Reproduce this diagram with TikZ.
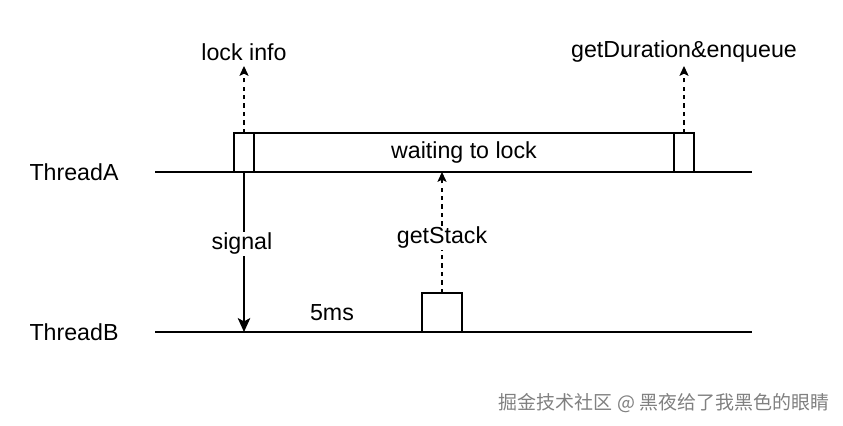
\documentclass[tikz,border=0pt]{standalone}
\usepackage{fontspec}
\setmainfont{Liberation Sans}
\newfontfamily\cjk{Noto Sans CJK SC}
\usetikzlibrary{arrows.meta}
\begin{document}
\begin{tikzpicture}[x=0.025cm,y=-0.025cm,
  lbl/.style={font=\fontsize{16.5}{18}\selectfont,inner sep=1pt},
  blk/.style={draw=black,thick,inner sep=0pt},
  evt/.style={thick,dashed,-{Stealth[length=7pt,width=6.5pt,inset=1.5pt]}},
  sig/.style={thick,-{Stealth[length=10pt,width=9pt,inset=2.5pt]}}]
\useasboundingbox (0,0) rectangle (843,426);

\node[lbl] (tA) at (74,172) {ThreadA};
\node[lbl] (tB) at (74,332) {ThreadB};
\coordinate (aL) at (155,172);
\coordinate (aR) at (752,172);
\coordinate (bL) at (155,332);
\coordinate (bR) at (752,332);
\draw[thick] (aL) -- (aR);
\draw[thick] (bL) -- (bR);

\draw[blk] (234,133) rectangle (254,172);
\draw[blk] (254,133) rectangle (674,172);
\draw[blk] (674,133) rectangle (694,172);
\draw[blk] (422,293) rectangle (462,332);
\node[lbl] (wait) at (464,153) {waiting to lock};

\node[lbl] (info) at (244,52) {lock info};
\node[lbl] (enq) at (684,52) {getDuration\&enqueue};
\node[lbl] (ms) at (332,313) {5ms};

\coordinate (p1) at (244,133);
\coordinate (p1e) at (244,66);
\coordinate (p2) at (684,133);
\coordinate (p2e) at (684,66);
\coordinate (p3) at (442,293);
\coordinate (p3e) at (442,172);
\coordinate (s1) at (244,172);
\coordinate (s1e) at (244,332);
\draw[evt] (p1) -- (p1e);
\draw[evt] (p2) -- (p2e);
\draw[evt] (p3) -- (p3e);
\draw[sig] (s1) -- (s1e);
\node[lbl,fill=white] (stk) at (442,238) {getStack};
\node[lbl,fill=white] (sg) at (242,244) {signal};

\node[inner sep=0pt,text=gray,font=\cjk\fontsize{13.5}{15}\selectfont] (wm) at (664,403) {掘金技术社区 @ 黑夜给了我黑色的眼睛};
\end{tikzpicture}
\end{document}
